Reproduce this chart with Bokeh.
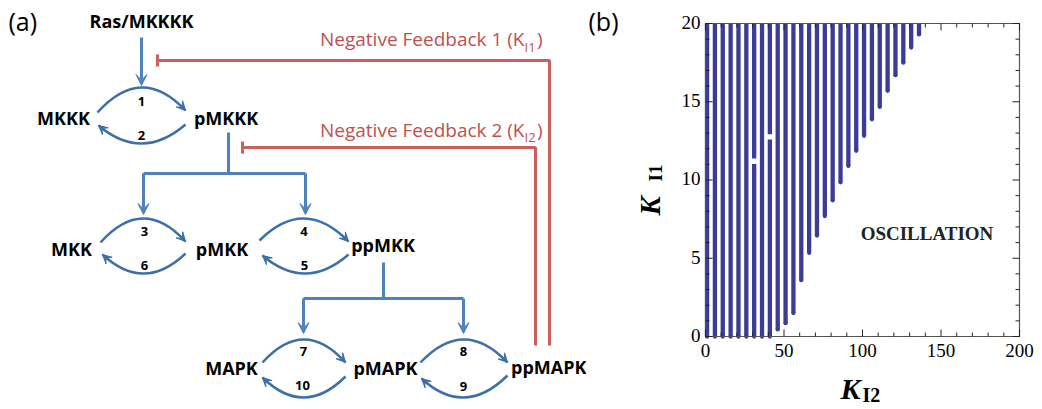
import math
from bokeh.plotting import figure
from bokeh.layouts import row
from bokeh.models import Range1d, Arrow, VeeHead
from bokeh.core.properties import value
from bokeh.embed import file_html
from bokeh.resources import INLINE

# ---------------- panel (b) data ----------------
K_I2_cols = [1, 6, 11, 16, 21, 26, 31, 36, 41, 46, 51, 56, 61, 66, 71, 76, 81,
             86, 91, 96, 101, 106, 111, 116, 121, 126, 131, 136]
K_I1_low = [0, 0, 0, 0, 0, 0, 0, 0, 0, 0.45, 0.85, 1.5, 3.6, 5.35, 6.45, 7.7, 8.7,
            9.85, 10.9, 11.87, 12.82, 13.88, 14.67, 15.7, 16.7, 17.5, 18.46, 19.3]
K_I1_high = [20] * 28
gap_K_I2 = [31, 41]
gap_K_I1 = [11.2, 12.75]
x_ticks = [0, 50, 100, 150, 200]
y_ticks = [0, 5, 10, 15, 20]
x_minor = [10, 20, 30, 40, 60, 70, 80, 90, 110, 120, 130, 140, 160, 170, 180, 190]
y_minor = [1, 2, 3, 4, 6, 7, 8, 9, 11, 12, 13, 14, 16, 17, 18, 19]
x_lim = (0, 200)
y_lim = (0, 20)

# ---------------- panel (a) content ----------------
species = ["Ras/MKKKK", "MKKK", "pMKKK", "MKK", "pMKK", "ppMKK", "MAPK", "pMAPK", "ppMAPK"]
reactions = ["1", "2", "3", "6", "4", "5", "7", "10", "8", "9"]

# diagram layout (pixel positions: centre x, baseline y)
species_pos = [(141, 28.5), (63, 125), (225.5, 125), (71, 256), (221.5, 256),
               (382.5, 252), (231, 375), (385, 375), (548.3, 374)]
reaction_pos = [(141, 106), (141, 140.5), (144, 236.5), (144, 270.5), (303.5, 236.5),
                (304, 270.5), (303, 356.5), (302, 390.5), (463, 356.5), (463, 391.5)]
arcs = [
    (97, 112, 185, 110, 87), (185, 124, 98, 125, 143),
    (100, 242, 185, 241, 218), (185, 253, 102, 254, 273),
    (259, 240, 348, 241, 218), (348, 254, 262, 255, 273),
    (262, 362, 345, 362, 339), (345, 376, 262, 377, 397),
    (420, 362, 507, 362, 339), (507, 375, 421, 378, 397),
]

BLUE = "#4f81bd"
ARC = "#3d6fa8"
RED = "#cd5f5b"
RED_TXT = "#c0504d"
FONT = "Open Sans"
SERIF = "Liberation Serif"
DOT = "#3b3b98"
FRAME = "#555555"
C_SANS = 0.42   # baseline correction (fraction of font size)
C_SERIF = 0.37

W1, H = 586, 409
W2 = 1042 - W1

p1 = figure(width=W1, height=H, x_range=Range1d(0, W1), y_range=Range1d(H, 0),
            output_backend="svg", toolbar_location=None, min_border=0,
            x_axis_location=None, y_axis_location=None)
p1.grid.visible = False
p1.outline_line_color = None

cxs, cys = [], []
for (x0, y0, x1, y1, ap) in arcs:
    cxs.append((x0 + x1) / 2)
    cys.append(2 * ap - (y0 + y1) / 2)
p1.quadratic(x0=[a[0] for a in arcs], y0=[a[1] for a in arcs],
             x1=[a[2] for a in arcs], y1=[a[3] for a in arcs],
             cx=cxs, cy=cys, line_color=ARC, line_width=2.5)
for (x0, y0, x1, y1, ap), cx, cy in zip(arcs, cxs, cys):
    dx, dy = x1 - cx, y1 - cy
    L = math.hypot(dx, dy)
    p1.add_layout(Arrow(end=VeeHead(size=9, fill_color=ARC, line_color=ARC, line_width=1),
                        x_start=x1 - 3 * dx / L, y_start=y1 - 3 * dy / L, x_end=x1, y_end=y1,
                        line_color=None))

p1.multi_line(xs=[[228, 228], [143, 305], [383, 383], [303, 463]],
              ys=[[132, 173], [173, 173], [262, 298], [298, 298]],
              line_color=BLUE, line_width=3)
for (xs, ys, xe, ye) in [(141, 37, 141, 85), (143, 173, 143, 214), (305, 173, 305, 214),
                         (303, 298, 303, 333), (463, 298, 463, 333)]:
    p1.add_layout(Arrow(end=VeeHead(size=11, fill_color=BLUE, line_color=BLUE, line_width=1),
                        x_start=xs, y_start=ys, x_end=xe, y_end=ye,
                        line_color=BLUE, line_width=3))

p1.multi_line(xs=[[157, 549, 549], [157, 157], [242, 535, 535], [242, 242]],
              ys=[[60, 60, 345], [54, 66], [147, 147, 345], [141, 153]],
              line_color=RED, line_width=3)


def t1(xs, ys, texts, fs, **kw):
    p1.text(x=xs, y=[y - C_SANS * fs for y in ys], text=texts, text_font=value(FONT),
            text_font_size=f"{fs}px", text_baseline="alphabetic", **kw)


t1([p[0] for p in species_pos], [p[1] for p in species_pos], species, 18,
   text_font_style="bold", text_align="center", text_color="black")
t1([p[0] for p in reaction_pos], [p[1] for p in reaction_pos], reactions, 13,
   text_font_style="bold", text_align="center", text_color="black")
t1([524, 524], [46.7, 137.3], ["Negative Feedback 1 (K", "Negative Feedback 2 (K"], 19,
   text_align="right", text_color=RED_TXT)
t1([524, 524], [51.5, 142.3], ["I1", "I2"], 13, text_align="left", text_color=RED_TXT)
t1([536.5, 536.5], [46.7, 137.3], [")", ")"], 19, text_align="left", text_color=RED_TXT)
t1([8], [31], ["(a)"], 25, text_align="left", text_color="black")

# ---------------- panel (b) ----------------
# frame position on the page (pixels) -> ranges of the full-canvas plot
FL, FR, FT, FB = 705, 1019, 23, 336
X0 = W1
kx = (FR - FL) / (x_lim[1] - x_lim[0])
ky = (FB - FT) / (y_lim[1] - y_lim[0])
xr = Range1d(x_lim[0] + (X0 - FL) / kx, x_lim[0] + (X0 + W2 - FL) / kx)
yr = Range1d(y_lim[0] - (H - FB) / ky, y_lim[0] + FB / ky)


def px2d(sx, sy):
    return x_lim[0] + (sx - FL) / kx, y_lim[0] + (FB - sy) / ky


p2 = figure(width=W2, height=H, x_range=xr, y_range=yr, output_backend="svg",
            toolbar_location=None, min_border=0, x_axis_location=None, y_axis_location=None)
p2.grid.visible = False
p2.outline_line_color = None

sx0, sy0, sx1, sy1 = [], [], [], []
for x, lo, hi in zip(K_I2_cols, K_I1_low, K_I1_high):
    pieces = [(lo, hi)]
    for gx, gy in zip(gap_K_I2, gap_K_I1):
        if gx == x:
            new = []
            for a, b in pieces:
                if a < gy < b:
                    new += [(a, gy - 0.17), (gy + 0.17, b)]
                else:
                    new.append((a, b))
            pieces = new
    for a, b in pieces:
        sx0.append(x); sx1.append(x); sy0.append(a); sy1.append(b)
p2.segment(x0=sx0, y0=sy0, x1=sx1, y1=sy1, line_color=DOT, line_width=4.3, line_cap="butt")
p2.scatter(x=K_I2_cols, y=K_I1_low, size=4.3, marker="circle", fill_color=DOT, line_color=None)

p2.quad(left=[x_lim[0]], right=[x_lim[1]], bottom=[y_lim[0]], top=[y_lim[1]],
        fill_color=None, line_color=FRAME, line_width=1.2)

maj, mnr = 7, 4
txs0, tys0, txs1, tys1 = [], [], [], []
for ticks, ln in [(x_ticks, maj), (x_minor, mnr)]:
    for t in ticks:
        txs0 += [t, t]; txs1 += [t, t]
        tys0 += [y_lim[0], y_lim[1]]; tys1 += [y_lim[0] + ln / ky, y_lim[1] - ln / ky]
for ticks, ln in [(y_ticks, maj), (y_minor, mnr)]:
    for t in ticks:
        tys0 += [t, t]; tys1 += [t, t]
        txs0 += [x_lim[0], x_lim[1]]; txs1 += [x_lim[0] + ln / kx, x_lim[1] - ln / kx]
p2.segment(x0=txs0, y0=tys0, x1=txs1, y1=tys1, line_color="#222222", line_width=1)

FS_TICK = 19
p2.text(x=x_ticks, y=[y_lim[0]] * len(x_ticks), text=[str(t) for t in x_ticks],
        text_font=value(SERIF), text_font_size=f"{FS_TICK}px", text_align="center",
        text_baseline="alphabetic", y_offset=20.7 - C_SERIF * FS_TICK, text_color="black")
p2.text(x=[x_lim[0]] * len(y_ticks), y=y_ticks, text=[str(t) for t in y_ticks],
        text_font=value(SERIF), text_font_size=f"{FS_TICK}px", text_align="right",
        text_baseline="alphabetic", x_offset=-5, y_offset=6 - C_SERIF * FS_TICK,
        text_color="black")


def t2(sx, sy, text, fs, font=SERIF, angle=0.0, **kw):
    if angle:
        sx = sx - C_SERIF * fs
    else:
        sy = sy - (C_SERIF if font == SERIF else C_SANS) * fs
    dx, dy = px2d(sx, sy)
    p2.text(x=[dx], y=[dy], text=[text], text_font=value(font), text_font_size=f"{fs}px",
            text_baseline="alphabetic", angle=angle, **kw)


# axis titles (K with bold subscript); pixel anchors = left edge / baseline
t2(840, 399, "K", 30, text_font_style="bold italic", text_align="left", text_color="black")
t2(862, 402, "I2", 20, text_font_style="bold", text_align="left", text_color="black")
t2(660, 215, "K", 29, angle=math.pi / 2, text_font_style="bold italic", text_align="left",
   text_color="black")
t2(662, 181, "I1", 19, angle=math.pi / 2, text_font_style="bold", text_align="left",
   text_color="black")
t2(926.5, 240, "OSCILLATION", 19, text_font_style="bold", text_align="center",
   text_color="#222222")
t2(588, 31, "(b)", 25, font=FONT, text_align="left", text_color="black")

layout = row(p1, p2)
open("out.html", "w").write(file_html(layout, INLINE))
